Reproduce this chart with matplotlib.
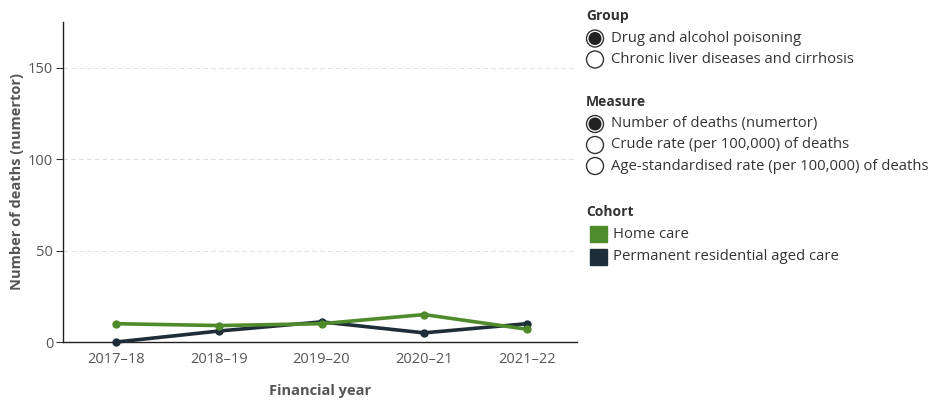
import numpy as np
import matplotlib.pyplot as plt
from matplotlib.patches import Circle, Rectangle

plt.rcParams['font.family'] = ['Open Sans', 'DejaVu Sans']

years = ["2017\u201318", "2018\u201319", "2019\u201320", "2020\u201321", "2021\u201322"]
home_care = [10, 9, 10, 15, 7]
residential = [0, 6, 11, 5, 10]
y_ticks = [0, 50, 100, 150]

group_opts = ["Drug and alcohol poisoning", "Chronic liver diseases and cirrhosis"]
measure_opts = ["Number of deaths (numertor)", "Crude rate (per 100,000) of deaths",
                "Age-standardised rate (per 100,000) of deaths"]
cohorts = ["Home care", "Permanent residential aged care"]

GREEN = "#4f8a2b"
DARK = "#1e2e38"
GREY = "#555555"
TXT = "#333333"

W, H = 932, 401
fig = plt.figure(figsize=(W / 100, H / 100), dpi=100)

# main chart (pixel box)
ax_l, ax_r, ax_t, ax_b = 63, 577, 22, 342
ax = fig.add_axes([ax_l / W, 1 - ax_b / H, (ax_r - ax_l) / W, (ax_b - ax_t) / H])
x = np.arange(len(years))
ax.plot(x, residential, color=DARK, lw=2.6, marker="o", ms=5, zorder=3, clip_on=False)
ax.plot(x, home_care, color=GREEN, lw=2.6, marker="o", ms=5, zorder=4, clip_on=False)

ax.set_xlim(-0.52, 4.49)
ax.set_ylim(0, 175)
ax.set_xticks(x)
ax.set_xticklabels(years, fontsize=10.5, color=GREY)
ax.set_yticks(y_ticks)
ax.set_yticklabels([str(v) for v in y_ticks], fontsize=10.5, color=GREY)
ax.tick_params(axis="x", length=0, pad=7)
ax.tick_params(axis="y", length=5, width=0.8, color="#333333", pad=2)
for v in y_ticks[1:]:
    ax.axhline(v, color="#e0e0e0", lw=0.8, ls=(0, (4, 3)), zorder=1)
for s in ["top", "right"]:
    ax.spines[s].set_visible(False)
for s in ["left", "bottom"]:
    ax.spines[s].set_color("#222222")
    ax.spines[s].set_linewidth(1.0)

# axis titles at fixed pixel spots
ax.set_ylabel("Number of deaths (numertor)", fontsize=10.5, color=GREY,
              fontweight="bold")
ax.yaxis.set_label_coords((17 - ax_l) / (ax_r - ax_l), 0.5)
ax.set_xlabel("Financial year", fontsize=10.5, color=GREY, fontweight="bold")
ax.xaxis.set_label_coords(0.5, -(391 - ax_b) / (ax_b - ax_t))
ax.xaxis.label.set_va("center")
ax.yaxis.label.set_va("center")

# filter / legend panel in pixel coordinates
lg = fig.add_axes([0, 0, 1, 1])
lg.set_xlim(0, W)
lg.set_ylim(H, 0)
lg.axis("off")
lg.patch.set_alpha(0)

def header(y, txt):
    lg.text(586, y, txt, fontsize=10, fontweight="bold", color=TXT,
            va="center", ha="left")

def radio(y, txt, on):
    lg.add_patch(Circle((595, y), 8.5, fill=False, ec=TXT, lw=1.0))
    if on:
        lg.add_patch(Circle((595, y), 5.8, color="#222222"))
    lg.text(611, y, txt, fontsize=10.7, color=TXT, va="center", ha="left")

header(16, "Group")
for i, t in enumerate(group_opts):
    radio(38.5 + 21 * i, t, i == 0)

header(102, "Measure")
for i, t in enumerate(measure_opts):
    radio(124 + 21 * i, t, i == 0)

header(212, "Cohort")
for i, (t, c) in enumerate(zip(cohorts, [GREEN, DARK])):
    y = 234 + 23 * i
    lg.add_patch(Rectangle((590, y - 8), 17, 16, color=c))
    lg.text(613, y, t, fontsize=10.7, color=TXT, va="center", ha="left")

fig.savefig("out.png", dpi=100)
